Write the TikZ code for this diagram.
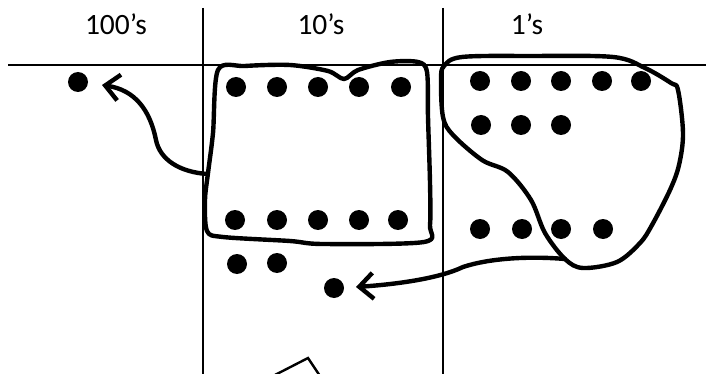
\documentclass[tikz,border=0pt]{standalone}
\usepackage{fontspec}
\setmainfont{Carlito}
\usetikzlibrary{arrows.meta}
\begin{document}
\begin{tikzpicture}[x=1pt,y=-1pt,
  dot/.style={circle,fill=black,inner sep=0pt,minimum size=20pt},
  grid/.style={line width=1.4pt},
  pen/.style={line width=4.4pt,line join=round,line cap=round},
  arr/.style={pen,-{Straight Barb[length=14pt,width=26pt,line width=4.4pt]}},
  lbl/.style={font=\fontsize{29.5}{34}\selectfont,inner sep=0pt}]
\useasboundingbox (0,0) rectangle (706,374);
% grid
\coordinate (hl) at (8,65);
\coordinate (hr) at (706,65);
\coordinate (v1t) at (203,8);
\coordinate (v1b) at (203,374);
\coordinate (v2t) at (443,8);
\coordinate (v2b) at (443,374);
\draw[grid] (hl) -- (hr);
\draw[grid] (v1t) -- (v1b);
\draw[grid] (v2t) -- (v2b);
% labels
\node[lbl] (l100) at (116,24) {100’s};
\node[lbl] (l10) at (321,24) {10’s};
\node[lbl] (l1) at (527,24) {1’s};
% 100's
\node[dot] (h1) at (78,82) {};
% 10's
\foreach \x [count=\i] in {236,277,318,359,401} \node[dot] (ta\i) at (\x,87) {};
\foreach \x [count=\i] in {235,277,318,359,398} \node[dot] (tb\i) at (\x,220) {};
\node[dot] (tc1) at (237,264) {};
\node[dot] (tc2) at (277,263) {};
\node[dot] (td) at (334,288) {};
% 1's
\foreach \x [count=\i] in {480,521,561,602,641} \node[dot] (oa\i) at (\x,81) {};
\foreach \x [count=\i] in {481,521,561} \node[dot] (ob\i) at (\x,125) {};
\foreach \x [count=\i] in {480,522,561,603} \node[dot] (oc\i) at (\x,229) {};
% ten box
\draw[pen] plot[smooth cycle,tension=0.5] coordinates {
 (218,70) (245,66) (290,65) (328,71) (344,79) (358,70) (390,62) (418,62)
 (427,72) (428,117) (430,183) (430,225) (424,242) (323,244) (290,241)
 (223,237) (207,231) (205,200) (208,173) (213,133)};
% ones blob
\draw[pen] plot[smooth cycle,tension=0.55] coordinates {
 (444,66) (462,57) (530,56) (613,57) (645,68) (671,83) (678,90)
 (683,133) (679,165) (670,190) (652,225) (640,243) (617,262) (583,268)
 (565,259) (545,233) (531,200) (508,172) (482,160) (453,135) (443,117) (441,80)};
% arrows
\coordinate (s1) at (207,174);
\coordinate (e1) at (102,85);
\draw[arr] (s1) .. controls (180,172) and (160,160) .. (156,140)
  .. controls (150,110) and (135,90) .. (e1);
\coordinate (s2) at (565,259);
\coordinate (e2) at (356,287);
\draw[arr] (s2) .. controls (530,256) and (490,258) .. (463,267)
  .. controls (440,278) and (400,284) .. (e2);
% partial shape at bottom
\coordinate (pa) at (273,376);
\coordinate (pb) at (308,358);
\coordinate (pc) at (320,376);
\draw[line width=2.4pt,line join=miter] (pa) -- (pb) -- (pc);
\end{tikzpicture}
\end{document}
